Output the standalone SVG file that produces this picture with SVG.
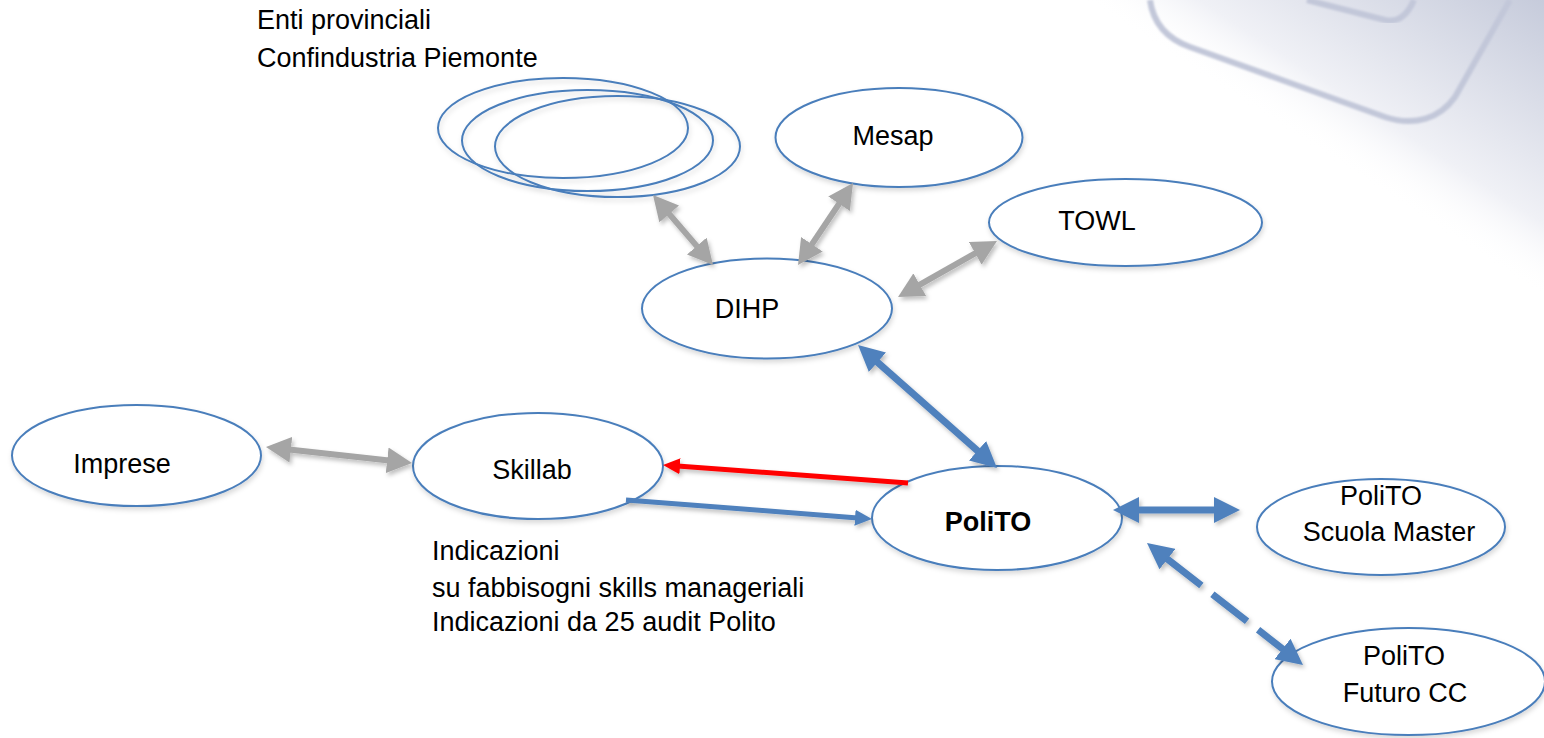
<svg xmlns="http://www.w3.org/2000/svg" width="1544" height="738" viewBox="0 0 1544 738">
  <defs>
    <linearGradient id="bgGrad" gradientUnits="userSpaceOnUse" x1="1408" y1="210" x2="1544" y2="0">
      <stop offset="0" stop-color="#ffffff" stop-opacity="0"/>
      <stop offset="0.25" stop-color="#f0f1f6" stop-opacity="1"/>
      <stop offset="1" stop-color="#c6cbdb"/>
    </linearGradient>
    <filter id="shadow" filterUnits="userSpaceOnUse" x="0" y="0" width="1544" height="738">
      <feDropShadow dx="2" dy="3" stdDeviation="2" flood-color="#000" flood-opacity="0.25"/>
    </filter>
    <filter id="eshadow" filterUnits="userSpaceOnUse" x="0" y="0" width="1544" height="738">
      <feDropShadow dx="1" dy="3" stdDeviation="2.5" flood-color="#000" flood-opacity="0.15"/>
    </filter>
    <filter id="soft" x="-10%" y="-10%" width="120%" height="120%">
      <feGaussianBlur stdDeviation="0.8"/>
    </filter>
    <marker id="grayHead" markerUnits="userSpaceOnUse" markerWidth="25" markerHeight="26" refX="11" refY="13" orient="auto-start-reverse">
      <path d="M0,0 L25,13 L0,26 z" fill="#a5a5a5"/>
    </marker>
    <marker id="blueHead" markerUnits="userSpaceOnUse" markerWidth="26" markerHeight="26" refX="10" refY="13" orient="auto-start-reverse">
      <path d="M0,0 L26,13 L0,26 z" fill="#4f81bd"/>
    </marker>
    <marker id="blueSmall" markerUnits="userSpaceOnUse" markerWidth="17" markerHeight="16" refX="6" refY="8" orient="auto-start-reverse">
      <path d="M0,0 L17,8 L0,16 z" fill="#4f81bd"/>
    </marker>
    <marker id="redSmall" markerUnits="userSpaceOnUse" markerWidth="17" markerHeight="16" refX="6" refY="8" orient="auto-start-reverse">
      <path d="M0,0 L17,8 L0,16 z" fill="#ff0000"/>
    </marker>
  </defs>
  <style>
    .node { fill: #ffffff; stroke: #4a7ebb; stroke-width: 2; }
    .stack { fill: none; stroke: #4a7ebb; stroke-width: 2; }
    .lbl { font-family: "Liberation Sans", Arial, sans-serif; font-size: 27px; fill: #000000; }
    .mid { text-anchor: middle; }
    .bold { font-weight: bold; }
    .deco { fill: none; stroke: #c2c7d9; stroke-width: 6; }
    .gray { stroke: #a5a5a5; stroke-width: 6; fill: none; marker-start: url(#grayHead); marker-end: url(#grayHead); }
    .blue { stroke: #4f81bd; stroke-width: 7; fill: none; marker-start: url(#blueHead); marker-end: url(#blueHead); }
    .blueOne { stroke: #4f81bd; stroke-width: 5; fill: none; marker-end: url(#blueSmall); }
    .redOne { stroke: #ff0000; stroke-width: 5; fill: none; marker-end: url(#redSmall); }
  </style>

  <rect x="0" y="0" width="1544" height="738" fill="#ffffff"/>

  <!-- background decoration -->
  <g id="background">
    <polygon points="1060,0 1544,0 1544,315" fill="url(#bgGrad)"/>
    <path class="deco" d="M1150,0 C1153,22 1165,38 1190,47 L1385,117 C1415,127 1440,118 1455,97 L1510,0" filter="url(#soft)"/>
    <path class="deco" d="M1307,0 L1385,20 C1398,23 1407,16 1414,0" filter="url(#soft)"/>
  </g>

  <!-- nodes -->
  <g id="node-enti">
    <g filter="url(#eshadow)">
      <ellipse class="stack" cx="563" cy="128" rx="125" ry="50"/>
      <ellipse class="stack" cx="587.5" cy="140.5" rx="125.5" ry="50.5"/>
      <ellipse class="stack" cx="617.5" cy="146.5" rx="122.5" ry="50.5"/>
    </g>
    <text class="lbl" x="257" y="29">Enti provinciali</text>
    <text class="lbl" x="257" y="67">Confindustria Piemonte</text>
  </g>
  <g id="node-mesap">
    <ellipse class="node" cx="899" cy="137.5" rx="123.5" ry="49.5" filter="url(#eshadow)"/>
    <text class="lbl mid" x="893" y="145">Mesap</text>
  </g>
  <g id="node-towl">
    <ellipse class="node" cx="1125.5" cy="222.5" rx="136.5" ry="43.5" filter="url(#eshadow)"/>
    <text class="lbl mid" x="1097" y="230">TOWL</text>
  </g>
  <g id="node-dihp">
    <ellipse class="node" cx="767" cy="308.5" rx="125" ry="50" filter="url(#eshadow)"/>
    <text class="lbl mid" x="747" y="318">DIHP</text>
  </g>
  <g id="node-imprese">
    <ellipse class="node" cx="136.5" cy="455.5" rx="124.5" ry="50.5" filter="url(#eshadow)"/>
    <text class="lbl mid" x="122" y="473">Imprese</text>
  </g>
  <g id="node-skillab">
    <ellipse class="node" cx="538" cy="466" rx="125" ry="53" filter="url(#eshadow)"/>
    <text class="lbl mid" x="532" y="479">Skillab</text>
  </g>
  <g id="node-polito">
    <ellipse class="node" cx="997" cy="518" rx="125" ry="52" filter="url(#eshadow)"/>
    <text class="lbl mid bold" x="988" y="531">PoliTO</text>
  </g>
  <g id="node-scuola">
    <ellipse class="node" cx="1381" cy="527" rx="124" ry="48" filter="url(#eshadow)"/>
    <text class="lbl mid" x="1381" y="505">PoliTO</text>
    <text class="lbl mid" x="1389" y="541">Scuola Master</text>
  </g>
  <g id="node-futuro">
    <ellipse class="node" cx="1408.5" cy="681.5" rx="136.5" ry="53.5" filter="url(#eshadow)"/>
    <text class="lbl mid" x="1404" y="665">PoliTO</text>
    <text class="lbl mid" x="1405" y="702">Futuro CC</text>
  </g>

  <!-- free text -->
  <g id="note-indicazioni">
    <text class="lbl" x="432" y="560">Indicazioni</text>
    <text class="lbl" x="432" y="597">su fabbisogni skills manageriali</text>
    <text class="lbl" x="432" y="631">Indicazioni da 25 audit Polito</text>
  </g>

  <!-- connectors -->
  <g id="connectors" filter="url(#shadow)">
    <line class="gray" x1="662.1" y1="205.6" x2="703.9" y2="254.4"/>
    <line class="gray" x1="845.2" y1="194.6" x2="805.8" y2="253.4"/>
    <line class="gray" x1="984.8" y1="247.9" x2="910.2" y2="290.1"/>
    <line class="gray" x1="279.9" y1="448.5" x2="398.1" y2="461.5"/>
    <line class="blue" x1="870" y1="355.6" x2="985" y2="457.4"/>
    <line class="blueOne" x1="626" y1="500" x2="861" y2="518.2"/>
    <line class="redOne" x1="908" y1="483" x2="674" y2="465.8"/>
    <line class="blue" stroke-width="6" x1="1129" y1="510" x2="1224" y2="510"/>
    <line class="blue" stroke-width="6" stroke-dasharray="53 14 44 14 80" x1="1159.6" y1="552.9" x2="1290.4" y2="655.1"/>
  </g>
</svg>
